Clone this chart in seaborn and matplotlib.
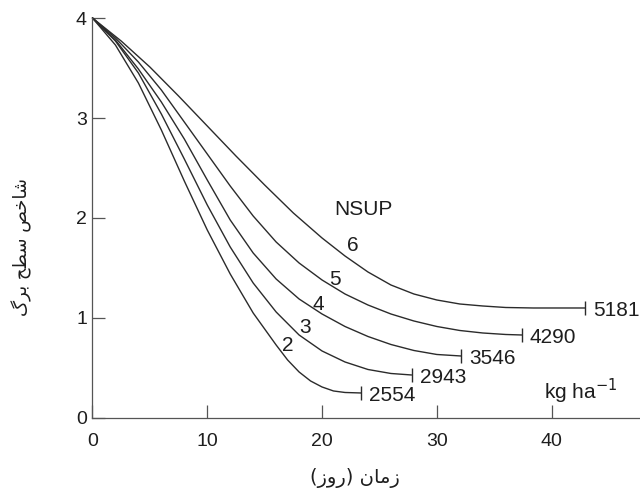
import matplotlib
matplotlib.use("Agg")
import matplotlib.pyplot as plt
import seaborn as sns
import pandas as pd

# ---- data ----
nsup = ["2", "3", "4", "5", "6"]
yield_labels = ["2554", "2943", "3546", "4290", "5181"]

days_2 = [0, 2, 4, 6, 8, 10, 12, 14, 16, 17, 18, 19, 20, 21, 22, 23.4]
lai_2 = [4.0, 3.73, 3.35, 2.88, 2.37, 1.88, 1.44, 1.05, 0.73, 0.58, 0.46, 0.37, 0.31, 0.27, 0.255, 0.25]

days_3 = [0, 2, 4, 6, 8, 10, 12, 14, 16, 18, 20, 22, 24, 26, 27.8]
lai_3 = [4.0, 3.77, 3.45, 3.04, 2.59, 2.13, 1.71, 1.35, 1.06, 0.83, 0.67, 0.56, 0.485, 0.445, 0.43]

days_4 = [0, 2, 4, 6, 8, 10, 12, 14, 16, 18, 20, 22, 24, 26, 28, 30, 32.1]
lai_4 = [4.0, 3.78, 3.49, 3.16, 2.79, 2.38, 1.98, 1.65, 1.39, 1.19, 1.04, 0.915, 0.815, 0.735, 0.675, 0.635, 0.62]

days_5 = [0, 2, 4, 6, 8, 10, 12, 14, 16, 18, 20, 22, 24, 26, 28, 30, 32, 34, 36, 37.4]
lai_5 = [4.0, 3.80, 3.56, 3.28, 2.96, 2.64, 2.32, 2.02, 1.76, 1.55, 1.38, 1.24, 1.13, 1.04, 0.97,
         0.915, 0.875, 0.85, 0.835, 0.83]

days_6 = [0, 2.5, 5, 7.5, 10, 12.5, 15, 17.5, 20, 22, 24, 26, 28, 30, 32, 34, 36, 38.4, 42.9]
lai_6 = [4.0, 3.77, 3.51, 3.22, 2.92, 2.62, 2.33, 2.05, 1.80, 1.62, 1.46, 1.33, 1.24, 1.18, 1.14,
         1.12, 1.105, 1.10, 1.10]

curve_days = [days_2, days_3, days_4, days_5, days_6]
curve_lai = [lai_2, lai_3, lai_4, lai_5, lai_6]

# positions of the NSUP number labels along curves
nsup_label_x = [17.0, 18.5, 19.7, 21.1, 22.7]
nsup_label_y = [0.72, 0.90, 1.13, 1.38, 1.72]

x_ticks = [0, 10, 20, 30, 40]
y_ticks = [0, 1, 2, 3, 4]

# Persian labels (visual-order presentation forms so they render shaped)
xlabel_fa = "(\uFEAF\uFEED\uFEAD) \uFEE5\uFE8E\uFEE3\uFEAF"          # زمان (روز)
ylabel_fa = "\uFB92\uFEAE\uFE91 \uFEA2\uFEC4\uFEB3 \uFEBA\uFEA7\uFE8E\uFEB7"  # شاخص سطح برگ

# ---- plotting ----
sns.set_theme(style="ticks")
plt.rcParams["font.family"] = ["Liberation Sans", "DejaVu Sans"]

line_color = "#2b2b2b"
text_color = "#1e1e1e"
ann_size = 15
tick_size = 14

fig = plt.figure(figsize=(6.4, 4.95), dpi=100)
ax = fig.add_axes([0.1445, 0.1556, 0.8555, 0.808])

rows = []
for n, d, l in zip(nsup, curve_days, curve_lai):
    for xi, yi in zip(d, l):
        rows.append({"day": xi, "lai": yi, "nsup": n})
df = pd.DataFrame(rows)

sns.lineplot(data=df, x="day", y="lai", hue="nsup", units="nsup", estimator=None,
             sort=False, palette=[line_color] * len(nsup), linewidth=1.0,
             legend=False, ax=ax, clip_on=False)

for d, l, lab in zip(curve_days, curve_lai, yield_labels):
    ax.plot([d[-1]], [l[-1]], marker="|", markersize=10, markeredgewidth=1.0,
            color=line_color, clip_on=False)
    ax.text(d[-1] + 0.7, l[-1] - 0.03, lab, ha="left", va="center",
            fontsize=ann_size, color=text_color)

for n, tx, ty in zip(nsup, nsup_label_x, nsup_label_y):
    ax.text(tx, ty, n, ha="center", va="center", fontsize=ann_size, color=text_color)

ax.text(21.1, 2.08, "NSUP", ha="left", va="center", fontsize=ann_size, color=text_color)
ax.text(39.3, 0.27, "kg ha$^{-1}$", ha="left", va="center", fontsize=ann_size, color=text_color)

ax.set_xlim(0, 47.7)
ax.set_ylim(0, 4.0)
ax.set_xticks(x_ticks)
ax.set_yticks(y_ticks)
ax.tick_params(axis="x", direction="in", length=9.5, width=0.9, pad=11,
               labelsize=tick_size, colors="#555555", labelcolor=text_color)
ax.tick_params(axis="y", direction="in", length=9, width=0.9, pad=4,
               labelsize=tick_size, colors="#555555", labelcolor=text_color)

for side in ["top", "right"]:
    ax.spines[side].set_visible(False)
for side in ["left", "bottom"]:
    ax.spines[side].set_color("#555555")
    ax.spines[side].set_linewidth(0.9)

ax.set_xlabel("")
ax.set_ylabel("")
fig.text(355 / 640, 1 - 478 / 495, xlabel_fa, ha="center", va="center",
         fontsize=14, color=text_color, family=["DejaVu Sans"])
fig.text(22 / 640, 1 - 247 / 495, ylabel_fa, ha="center", va="center",
         rotation=90, fontsize=13, color=text_color, family=["DejaVu Sans"])

fig.savefig("out.png", dpi=100)
